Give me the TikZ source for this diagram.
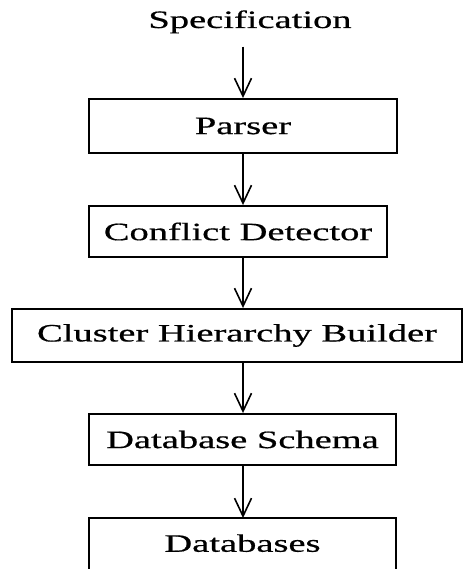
\documentclass[tikz,border=0pt]{standalone}
\usepackage{fontspec}
\setmainfont{Liberation Serif}[FakeBold=0.5]
\usepackage{graphicx}
\usetikzlibrary{arrows.meta}

% labels are set wide, as in the printed figure
\newcommand{\widetext}[1]{\scalebox{1.54}[1]{#1}}

\begin{document}
\begin{tikzpicture}[
  x=1pt, y=-1pt,
  every node/.style={font=\fontsize{25}{30}\selectfont, inner sep=0pt},
  stage/.style={draw, line width=1.9pt, minimum height=51pt},
  flow/.style={line width=1.6pt, -{Straight Barb[length=18pt,width=17pt,line width=1.6pt]}},
]
\useasboundingbox (0,0) rectangle (464,569);
\clip (0,0) rectangle (464,569);

% input label
\node[anchor=base] (spec) at (250,28) {\widetext{Specification}};

% processing stages
\node[stage, minimum width=308pt, minimum height=54pt] (parser) at (243,126) {\widetext{Parser}};
\node[stage, minimum width=298pt] (conflict) at (238,231.5) {\widetext{Conflict Detector}};
\node[stage, minimum width=450pt, minimum height=53pt] (cluster) at (237,335.5) {\widetext{Cluster Hierarchy Builder}};
\node[stage, minimum width=307pt] (schema) at (242.5,439.5) {\widetext{Database Schema}};

% output stage, its box runs off the lower edge
\node[minimum width=307pt, minimum height=50pt, anchor=north] (db) at (242.5,518) {\widetext{Databases}};
\draw[line width=1.9pt] ([yshift=-30pt]db.south west) -- (db.north west) -- (db.north east) -- ([yshift=-30pt]db.south east);

% data flow
\draw[flow, shorten <=13pt] (spec.south -| parser.north) -- (parser.north);
\draw[flow] (parser.south) -- (parser.south |- conflict.north);
\draw[flow] (conflict.south -| parser.south) -- (cluster.north -| parser.south);
\draw[flow] (cluster.south -| parser.south) -- (schema.north -| parser.south);
\draw[flow] (schema.south -| parser.south) -- (db.north -| parser.south);
\end{tikzpicture}
\end{document}
